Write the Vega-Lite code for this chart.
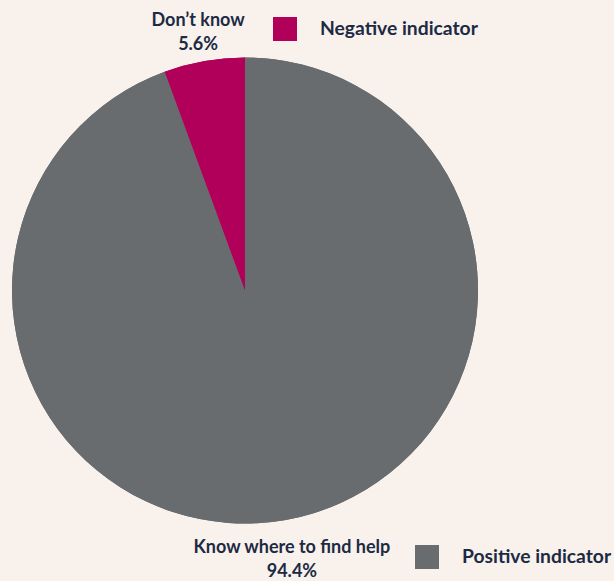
{
  "$schema": "https://vega.github.io/schema/vega-lite/v6.json",
  "width": 490,
  "height": 581,
  "autosize": {"type": "none"},
  "padding": {"left": 0, "top": 0, "right": 124, "bottom": 0},
  "background": "#f9f2ec",
  "config": {"view": {"stroke": null}, "font": "Lato"},
  "data": {
    "values": [
      {"indicator": "Positive indicator", "label": "Know where to find help\n94.4%", "pct": 94.4},
      {"indicator": "Negative indicator", "label": "Don’t know\n5.6%", "pct": 5.6}
    ]
  },
  "layer": [
    {
      "mark": {"type": "arc", "outerRadius": 233},
      "encoding": {
        "theta": {"field": "pct", "type": "quantitative", "stack": true},
        "order": {"field": "indicator", "sort": "descending"},
        "color": {
          "field": "indicator",
          "type": "nominal",
          "scale": {"domain": ["Negative indicator", "Positive indicator"], "range": ["#b0005a", "#686c6f"]},
          "legend": {
            "values": ["Negative indicator"],
            "orient": "none",
            "legendX": 273,
            "legendY": 17,
            "title": null,
            "padding": 0,
            "symbolType": "square",
            "symbolSize": 576,
            "symbolStrokeWidth": 0,
            "symbolOpacity": 1,
            "labelFontSize": 19.3,
            "labelFontWeight": "bold",
            "labelColor": "#1d2a44",
            "labelOffset": 23,
            "labelLimit": 300
          }
        }
      }
    },
    {
      "mark": {"type": "arc", "outerRadius": 233},
      "encoding": {
        "theta": {"field": "pct", "type": "quantitative", "stack": true},
        "order": {"field": "indicator", "sort": "descending"},
        "color": {
          "field": "indicator",
          "type": "nominal",
          "scale": {"domain": ["Negative indicator", "Positive indicator"], "range": ["#b0005a", "#686c6f"]},
          "legend": {
            "values": ["Positive indicator"],
            "orient": "none",
            "legendX": 415,
            "legendY": 545,
            "title": null,
            "padding": 0,
            "symbolType": "square",
            "symbolSize": 576,
            "symbolStrokeWidth": 0,
            "symbolOpacity": 1,
            "labelFontSize": 19.3,
            "labelFontWeight": "bold",
            "labelColor": "#1d2a44",
            "labelOffset": 23,
            "labelLimit": 300
          }
        }
      }
    },
    {
      "mark": {"type": "text", "radius": 268, "dy": -6, "lineBreak": "\n", "fontSize": 18, "fontWeight": "bold", "color": "#1d2a44", "lineHeight": 24},
      "encoding": {
        "theta": {"field": "pct", "type": "quantitative", "stack": true},
        "order": {"field": "indicator", "sort": "descending"},
        "text": {"field": "label", "type": "nominal"}
      }
    }
  ],
  "resolve": {"scale": {"color": "independent"}, "legend": {"color": "independent"}}
}
